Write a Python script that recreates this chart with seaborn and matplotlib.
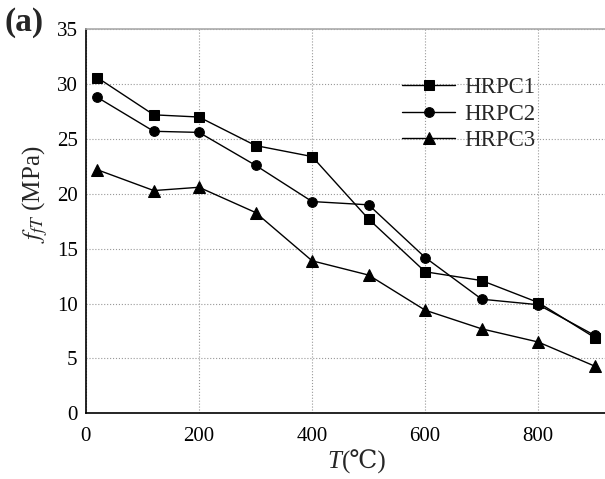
import pandas as pd
import seaborn as sns
import numpy as np
import matplotlib.pyplot as plt
from matplotlib.ticker import MultipleLocator

# temperatures and strengths
temps = [20, 120, 200, 300, 400, 500, 600, 700, 800, 900]
hrpc1 = [30.6, 27.2, 27.0, 24.4, 23.4, 17.7, 12.9, 12.1, 10.1, 6.9]
hrpc2 = [28.8, 25.7, 25.6, 22.6, 19.3, 19.0, 14.2, 10.4, 9.9, 7.1]
hrpc3 = [22.2, 20.3, 20.6, 18.3, 13.9, 12.6, 9.4, 7.7, 6.5, 4.3]
names = ['HRPC1', 'HRPC2', 'HRPC3']

df = pd.DataFrame({
    'T': temps * 3,
    'f': hrpc1 + hrpc2 + hrpc3,
    'serie': np.repeat(names, len(temps)),
})

sns.set_style('white')
plt.rcParams['font.family'] = ['Liberation Serif', 'DejaVu Serif']
plt.rcParams['mathtext.fontset'] = 'stix'

fig = plt.figure(figsize=(6.05, 4.79), dpi=100)
ax = fig.add_axes([0.142, 0.137, 0.858, 0.802])

marcas = {'HRPC1': 's', 'HRPC2': 'o', 'HRPC3': '^'}
tamanhos = {'HRPC1': 6.5, 'HRPC2': 7, 'HRPC3': 8}
for nome in names:
    sns.lineplot(data=df[df['serie'] == nome], x='T', y='f', ax=ax,
                 color='black', marker=marcas[nome], markersize=tamanhos[nome],
                 markeredgecolor='black', linewidth=1.0, label=nome)

ax.set_xlim(0, 918)
ax.set_ylim(0, 35)
ax.set_xticks([0, 200, 400, 600, 800])
ax.xaxis.set_minor_locator(MultipleLocator(100))
ax.yaxis.set_major_locator(MultipleLocator(5))
ax.yaxis.set_minor_locator(MultipleLocator(2.5))

ax.tick_params(which='both', direction='in', colors='black', labelsize=15)
ax.tick_params(which='major', length=5, width=1)
ax.tick_params(which='minor', length=3, width=1)
ax.tick_params(axis='x', pad=10)
ax.tick_params(axis='y', pad=6)

ax.grid(True, which='major', linestyle=':', color='#999999', linewidth=0.8)
ax.set_axisbelow(True)

ax.spines['right'].set_visible(False)
ax.spines['top'].set_color('#aaaaaa')
ax.spines['top'].set_linewidth(1.2)
for s in ['left', 'bottom']:
    ax.spines[s].set_color('black')
    ax.spines[s].set_linewidth(1.2)

# x label in two pieces: italic T + (℃) from a font that has the glyph
ax.set_xlabel('')
fig.text(0.5645, 0.022, 'T', fontsize=18, style='italic', ha='right', va='baseline')
fig.text(0.5645, 0.022, '(℃)', fontsize=18, ha='left', va='baseline')
ax.set_ylabel('$f_{fT}$ (MPa)', fontsize=18)
ax.yaxis.set_label_coords(-0.07, 0.57)

ax.legend(loc='upper left', bbox_to_anchor=(0.592, 0.9), frameon=False,
          fontsize=16.5, handlelength=2.3, handletextpad=0.4,
          labelspacing=0.25, borderaxespad=0)

fig.text(0.008, 0.935, '(a)', fontsize=24, fontweight='bold')

fig.savefig('out.png', dpi=100)
